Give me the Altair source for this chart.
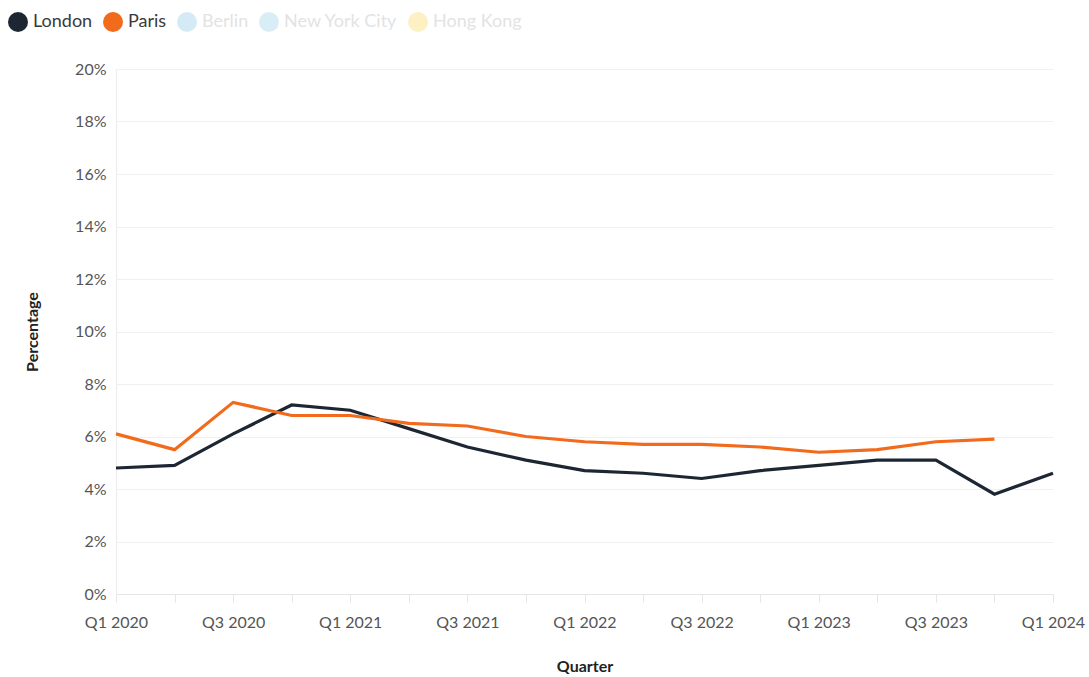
import altair as alt
import pandas as pd

quarters = ["Q1 2020", "Q2 2020", "Q3 2020", "Q4 2020",
            "Q1 2021", "Q2 2021", "Q3 2021", "Q4 2021",
            "Q1 2022", "Q2 2022", "Q3 2022", "Q4 2022",
            "Q1 2023", "Q2 2023", "Q3 2023", "Q4 2023",
            "Q1 2024"]
london = [4.8, 4.9, 6.1, 7.2, 7.0, 6.3, 5.6, 5.1, 4.7, 4.6, 4.4, 4.7, 4.9, 5.1, 5.1, 3.8, 4.6]
paris = [6.1, 5.5, 7.3, 6.8, 6.8, 6.5, 6.4, 6.0, 5.8, 5.7, 5.7, 5.6, 5.4, 5.5, 5.8, 5.9, None]

series_names = ["London", "Paris", "Berlin", "New York City", "Hong Kong"]
series_colors = ["#1d2734", "#f26b1d", "#d4ebf5", "#d9edf6", "#fdf0c2"]

rows = []
for q, lv, pv in zip(quarters, london, paris):
    rows.append({"quarter": q, "city": "London", "value": lv})
    if pv is not None:
        rows.append({"quarter": q, "city": "Paris", "value": pv})
df = pd.DataFrame(rows)

font = "Lato"

chart = alt.Chart(df).mark_line(strokeWidth=3.2).encode(
    x=alt.X("quarter:O", sort=quarters,
            scale=alt.Scale(type="point", padding=0),
            axis=alt.Axis(title="Quarter", labelAngle=0,
                          labelExpr="slice(datum.label,0,2) == 'Q1' || slice(datum.label,0,2) == 'Q3' ? datum.label : ''",
                          labelFontSize=16, labelColor="#555", labelPadding=12,
                          tickColor="#e6e6e6", tickSize=8, domainColor="#e6e6e6",
                          titleFontSize=16, titleFontWeight="bold", titleColor="#222",
                          titlePadding=28, grid=False)),
    y=alt.Y("value:Q", scale=alt.Scale(domain=[0, 20]),
            axis=alt.Axis(title="Percentage", values=list(range(0, 21, 2)),
                          labelExpr="datum.value + '%'",
                          labelFontSize=16, labelColor="#555", labelPadding=10,
                          ticks=False, domain=True, domainColor="#ececec",
                          gridColor="#f0f0f0",
                          titleFontSize=16, titleFontWeight="bold", titleColor="#222",
                          titlePadding=34)),
    color=alt.Color("city:N",
                    scale=alt.Scale(domain=series_names, range=series_colors),
                    legend=alt.Legend(title=None, orient="none", direction="horizontal",
                                      legendX=-108, legendY=-57,
                                      symbolType="circle", symbolSize=400,
                                      symbolStrokeWidth=0,
                                      symbolFillColor={"expr": "scale('color', datum.value)"},
                                      symbolOpacity=1,
                                      labelFontSize=18, columnPadding=10,
                                      labelOffset=5,
                                      labelColor={"expr": "datum.label == 'London' || datum.label == 'Paris' ? '#3a3a3a' : '#e3e3e3'"},
                                      values=series_names))
).properties(
    width=937, height=525,
    padding={"left": 116, "top": 69, "right": 36, "bottom": 83},
    autosize="none"
).configure(font=font).configure_view(stroke=None)

chart.save("out.html", embed_options={"renderer": "svg", "actions": False})
